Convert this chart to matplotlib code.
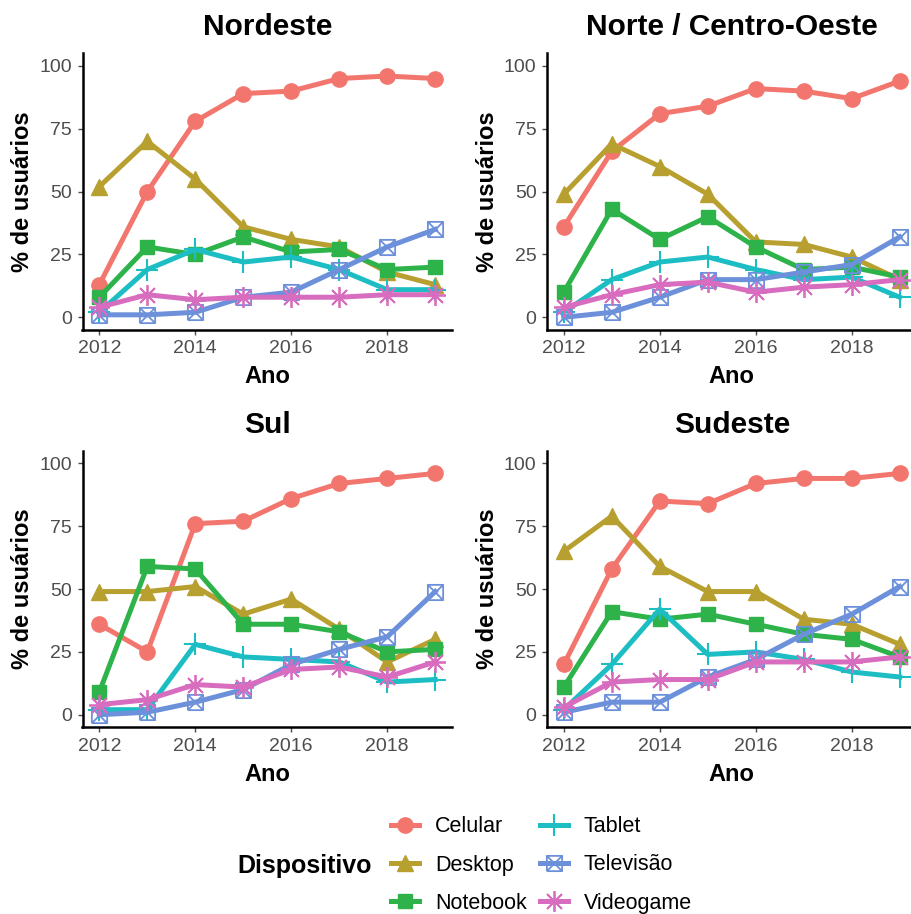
import matplotlib
matplotlib.use('Agg')
from matplotlib import pyplot as plt
from matplotlib.path import Path
from matplotlib.lines import Line2D
import numpy as np

plt.rcParams['font.family'] = ['Liberation Sans', 'DejaVu Sans']

anos = [2012, 2013, 2014, 2015, 2016, 2017, 2018, 2019]
dispositivos = ['Celular', 'Desktop', 'Notebook', 'Tablet', 'Televisão', 'Videogame']

# % de usuarios por regiao e dispositivo
nordeste_celular = [13, 50, 78, 89, 90, 95, 96, 95]
nordeste_desktop = [52, 70, 55, 36, 31, 28, 18, 13]
nordeste_notebook = [8, 28, 25, 32, 26, 27, 19, 20]
nordeste_tablet = [2, 19, 27, 22, 24, 19, 11, 11]
nordeste_tv = [1, 1, 2, 8, 10, 19, 28, 35]
nordeste_videogame = [4, 9, 7, 8, 8, 8, 9, 9]

norte_celular = [36, 66, 81, 84, 91, 90, 87, 94]
norte_desktop = [49, 69, 60, 49, 30, 29, 24, 15]
norte_notebook = [10, 43, 31, 40, 28, 19, 20, 16]
norte_tablet = [2, 15, 22, 24, 19, 15, 16, 8]
norte_tv = [0, 2, 8, 15, 15, 18, 21, 32]
norte_videogame = [4, 9, 13, 14, 10, 12, 13, 15]

sul_celular = [36, 25, 76, 77, 86, 92, 94, 96]
sul_desktop = [49, 49, 51, 40, 46, 34, 21, 30]
sul_notebook = [9, 59, 58, 36, 36, 33, 25, 26]
sul_tablet = [2, 2, 28, 23, 22, 21, 13, 14]
sul_tv = [0, 1, 5, 10, 20, 26, 31, 49]
sul_videogame = [4, 6, 12, 11, 18, 19, 15, 21]

sudeste_celular = [20, 58, 85, 84, 92, 94, 94, 96]
sudeste_desktop = [65, 79, 59, 49, 49, 38, 36, 28]
sudeste_notebook = [11, 41, 38, 40, 36, 32, 30, 23]
sudeste_tablet = [2, 20, 42, 24, 25, 22, 17, 15]
sudeste_tv = [1, 5, 5, 15, 22, 32, 40, 51]
sudeste_videogame = [3, 13, 14, 14, 21, 21, 21, 23]

regioes = ['Nordeste', 'Norte / Centro-Oeste', 'Sul', 'Sudeste']
valores = [
    [nordeste_celular, nordeste_desktop, nordeste_notebook, nordeste_tablet, nordeste_tv, nordeste_videogame],
    [norte_celular, norte_desktop, norte_notebook, norte_tablet, norte_tv, norte_videogame],
    [sul_celular, sul_desktop, sul_notebook, sul_tablet, sul_tv, sul_videogame],
    [sudeste_celular, sudeste_desktop, sudeste_notebook, sudeste_tablet, sudeste_tv, sudeste_videogame],
]

cores = ['#F3766E', '#B8A030', '#2EB34B', '#1DBDC4', '#6C90DA', '#D86CBE']

# quadrado com x (shape 7 do ggplot)
sq_x = Path([(-1, -1), (1, -1), (1, 1), (-1, 1), (-1, -1), (-1, -1), (1, 1), (-1, 1), (1, -1)],
            [Path.MOVETO, Path.LINETO, Path.LINETO, Path.LINETO, Path.LINETO,
             Path.MOVETO, Path.LINETO, Path.MOVETO, Path.LINETO])

estilos = [
    dict(marker='o', markersize=11),
    dict(marker='^', markersize=12),
    dict(marker='s', markersize=10),
    dict(marker='+', markersize=16, markeredgewidth=1.5),
    dict(marker=sq_x, markersize=11, markerfacecolor='none', markeredgewidth=1.3),
    dict(marker=(8, 2, 0), markersize=15, markeredgewidth=1.3),
]

fig = plt.figure(figsize=(9.12, 9.14), dpi=100)
W, H = 912.0, 914.0
# posicoes em pixels: (esquerda, topo)
pos = [(82.5, 53.4), (547, 53.4), (82.5, 450.8), (547, 450.8)]
aw, ah = 369.5, 276.5

for k in range(4):
    x0, y0 = pos[k]
    ax = fig.add_axes([x0 / W, 1 - (y0 + ah) / H, aw / W, ah / H])
    for i in range(len(dispositivos)):
        ax.plot(anos, valores[k][i], color=cores[i], lw=3.6, label=dispositivos[i],
                markeredgecolor=cores[i], **estilos[i])
    ax.set_xlim(2011.65, 2019.35)
    ax.set_ylim(-5, 105)
    ax.set_xticks([2012, 2014, 2016, 2018])
    ax.set_yticks([0, 25, 50, 75, 100])
    for s in ['top', 'right']:
        ax.spines[s].set_visible(False)
    for s in ['left', 'bottom']:
        ax.spines[s].set_linewidth(1.8)
    ax.tick_params(labelsize=14, colors='#4D4D4D', length=3.5, width=1, pad=4)
    ax.tick_params(axis='x', pad=4)
    ax.set_title(regioes[k], fontsize=21.5, fontweight='bold', pad=13)
    ax.set_xlabel('Ano', fontsize=17, fontweight='bold')
    ax.set_ylabel('% de usuários', fontsize=17, fontweight='bold')
    ax.yaxis.set_label_coords(-0.13, 0.5)
    ax.xaxis.set_label_coords(0.5, -0.128)

handles = [Line2D([], [], color=cores[i], lw=3.6, markeredgecolor=cores[i], **estilos[i])
           for i in range(len(dispositivos))]
fig.legend(handles, dispositivos, ncol=2, loc='center left',
           bbox_to_anchor=(391 / W, 1 - 865 / H), frameon=False, fontsize=15.5,
           handlelength=1.3, handletextpad=0.75, columnspacing=0.6, labelspacing=0.8,
           borderpad=0, borderaxespad=0)
fig.text(237 / W, 1 - 866 / H, 'Dispositivo', fontsize=18, fontweight='bold', va='center')

plt.savefig('out.png', dpi=100)
